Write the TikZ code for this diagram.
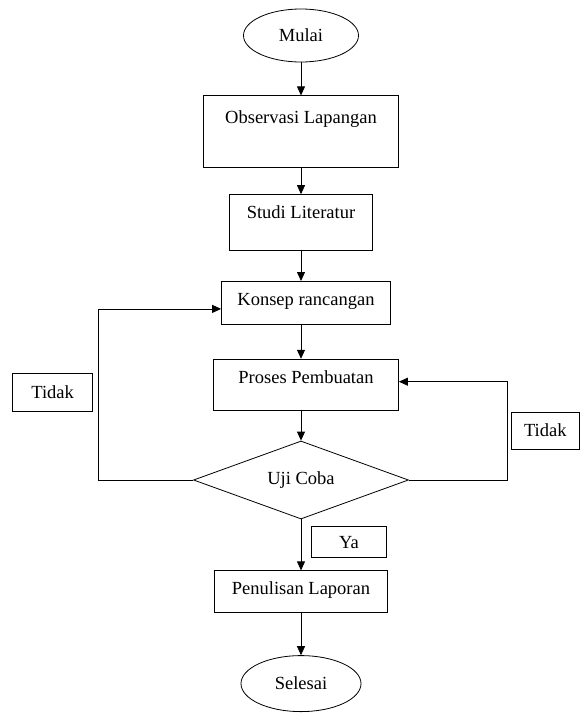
\documentclass[tikz,border=0pt]{standalone}
\usepackage{fontspec}
\setmainfont{Liberation Serif}
\usetikzlibrary{shapes.geometric,arrows.meta,positioning}

\begin{document}
\begin{tikzpicture}[
            x=1pt, y=1pt,
            node distance=30pt,
            every node/.style={font=\fontsize{18.5}{21}\selectfont},
            terminal/.style={ellipse, draw=black, line width=0.8pt, inner sep=0pt},
            stepbox/.style={rectangle, draw=black, line width=0.8pt, inner xsep=0pt, inner ysep=0pt, text height=24pt},
            decision/.style={diamond, draw=black, line width=0.8pt, inner sep=0pt, aspect=2.75, minimum width=215pt, minimum height=78pt},
            answer/.style={rectangle, draw=black, line width=0.8pt, inner sep=0pt},
            flow/.style={-{Triangle[length=9pt,width=8pt]}, line width=0.8pt}
        ]

        \useasboundingbox (0,0) rectangle (580,-713);

        \node[terminal, minimum width=115pt, minimum height=53pt] (mulai) at (301,-35.5) {Mulai};
        \node[stepbox, minimum width=195pt, text height=28pt, text depth=44pt] (observasi) [below=33pt of mulai] {Observasi Lapangan};
        \node[stepbox, minimum width=143pt, text depth=32pt] (studi) [below=26pt of observasi] {Studi Literatur};
        \node[stepbox, minimum width=169pt, text depth=19pt] (konsep) [below=30pt of studi, xshift=5pt] {Konsep rancangan};
        \node[stepbox, minimum width=185pt, text depth=27pt] (proses) [below=34pt of konsep] {Proses Pembuatan};
        \node[decision] (uji) [below=30pt of proses, xshift=-5pt] {Uji Coba};
        \node[stepbox, minimum width=173pt, text depth=18pt] (penulisan) [below=51pt of uji] {Penulisan Laporan};
        \node[terminal, minimum width=120pt, minimum height=56pt] (selesai) [below=42pt of penulisan] {Selesai};

        \coordinate (leftbend) at ([xshift=-95pt]uji.west);
        \coordinate (rightbend) at ([xshift=98pt]uji.east);

        \node[answer, minimum width=80pt, minimum height=38pt, anchor=east] (tidakkiri) at ([xshift=-5pt,yshift=88pt]leftbend) {Tidak};
        \node[answer, minimum width=68pt, minimum height=37pt, anchor=west] (tidakkanan) at ([xshift=4pt,yshift=49.5pt]rightbend) {Tidak};
        \node[answer, minimum width=75pt, minimum height=31pt, below right=7pt and 10pt of uji.south] (ya) {Ya};

        \draw[flow] (mulai) -- (observasi);
        \draw[flow] (observasi) -- (studi);
        \draw[flow] (studi) -- (studi |- konsep.north);
        \draw[flow] (konsep.south -| studi) -- (studi |- proses.north);
        \draw[flow] (proses.south -| uji) -- (uji);
        \draw[flow] (uji) -- (penulisan);
        \draw[flow] (penulisan) -- (selesai);
        \draw[flow] (uji.west) -- (leftbend) |- ([yshift=-6pt]konsep.west);
        \draw[flow] (uji.east) -- (rightbend) |- ([yshift=3pt]proses.east);

    \end{tikzpicture}
\end{document}
